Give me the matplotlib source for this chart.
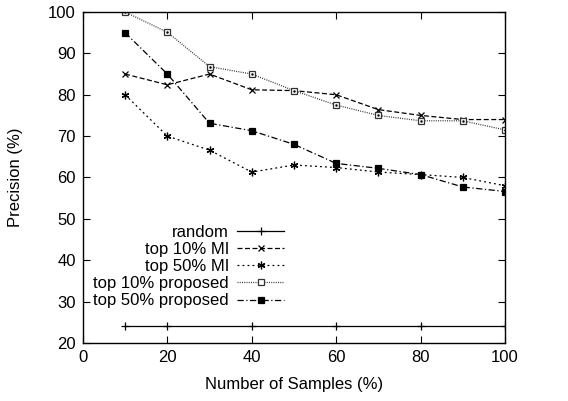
import numpy as np
import matplotlib
matplotlib.use('Agg')
import matplotlib.pyplot as plt

plt.rcParams['font.family'] = ['Liberation Sans', 'DejaVu Sans']

samples = [10, 20, 30, 40, 50, 60, 70, 80, 90, 100]
random_x = [10, 20, 40, 60, 80, 100]
random_y = [24, 24, 24, 24, 24, 24]
mi_top10 = [85, 82.4, 85, 81.2, 81, 80, 76.4, 75, 74, 74]
mi_top50 = [80, 70, 66.6, 61.3, 63, 62.4, 61.3, 60.7, 60, 58]
prop_top10 = [100, 95.1, 86.8, 85, 81, 77.5, 75, 73.7, 73.7, 71.5]
prop_top50 = [95, 85, 73.1, 71.3, 68, 63.4, 62.2, 60.7, 57.7, 56.6]

fig = plt.figure(figsize=(5.68, 4.01), dpi=100)
ax = fig.add_axes([0.146, 0.145, 0.743, 0.825])

lw = 0.9
fs = 12
ax.plot(random_x, random_y, color='black', lw=lw, ls='-', marker='+', ms=6, mew=lw,
        label='random')
ax.plot(samples, mi_top10, color='black', lw=lw, ls=(0, (4, 2)), marker='x', ms=4.5, mew=lw,
        label='top 10% MI')
ax.plot(samples, mi_top50, color='black', lw=lw, ls=(0, (1.5, 2.5)), marker=(6, 2, 0), ms=5.5,
        mew=lw, label='top 50% MI')
ax.plot(samples, prop_top10, color='#333333', lw=lw, ls=(0, (0.8, 1)), marker='s', ms=5,
        mfc='white', mew=lw, label='top 10% proposed')
ax.plot(samples, prop_top10, ls='none', marker='.', ms=1.5, color='black')
ax.plot(samples, prop_top50, color='black', lw=lw, ls=(0, (5, 2, 1, 2)), marker='s', ms=5,
        mfc='black', mew=lw, label='top 50% proposed')

ax.set_xlim(0, 100)
ax.set_ylim(20, 100)
ax.set_xticks([0, 20, 40, 60, 80, 100])
ax.set_yticks(np.arange(20, 101, 10))
ax.tick_params(direction='in', top=True, right=True, length=5, width=0.8, labelsize=fs, pad=5)
for s in ax.spines.values():
    s.set_linewidth(1.0)

ax.set_xlabel('Number of Samples (%)', fontsize=fs, labelpad=9)
ax.set_ylabel('Precision (%)', fontsize=fs, labelpad=18)

leg = ax.legend(loc='lower right', bbox_to_anchor=(0.496, 0.079), markerfirst=False,
                frameon=False, fontsize=fs, handlelength=2.8, handletextpad=0.5,
                labelspacing=0.13, borderpad=0.0)
for t in leg.get_texts():
    t.set_ha('right')

fig.savefig('out.png', dpi=100)
